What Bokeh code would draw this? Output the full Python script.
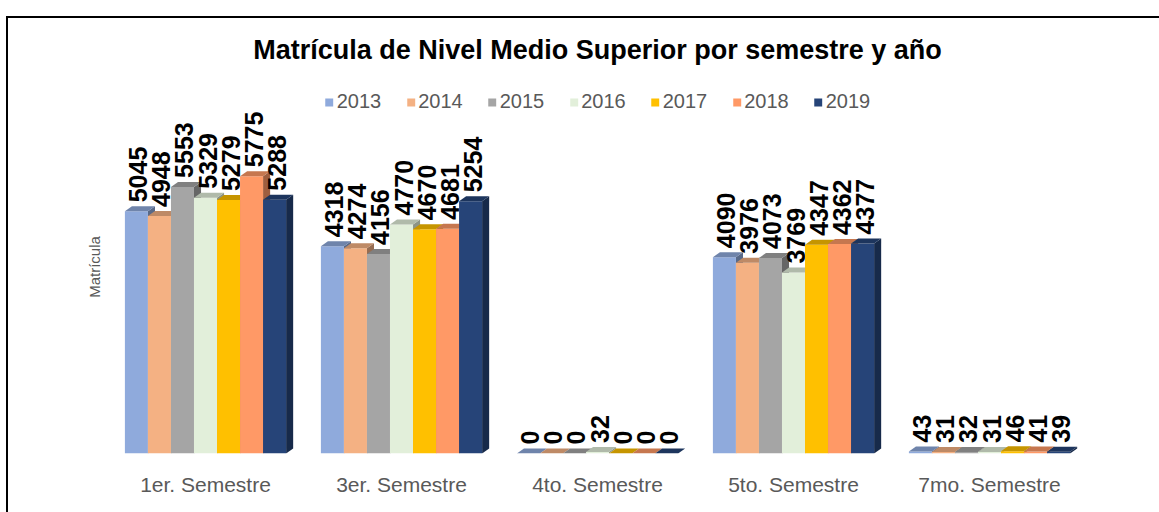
import math
from bokeh.plotting import figure
from bokeh.models import Range1d, FixedTicker, Legend, LegendItem
from bokeh.core.properties import value
from bokeh.embed import file_html
from bokeh.resources import INLINE

# ---------------- data ----------------
categories = ["1er. Semestre", "3er. Semestre", "4to. Semestre", "5to. Semestre", "7mo. Semestre"]
years = ["2013", "2014", "2015", "2016", "2017", "2018", "2019"]
v2013 = [5045, 4318, 0, 4090, 43]
v2014 = [4948, 4274, 0, 3976, 31]
v2015 = [5553, 4156, 0, 4073, 32]
v2016 = [5329, 4770, 32, 3769, 31]
v2017 = [5279, 4670, 0, 4347, 46]
v2018 = [5775, 4681, 0, 4362, 41]
v2019 = [5288, 5254, 0, 4377, 39]
series = [v2013, v2014, v2015, v2016, v2017, v2018, v2019]

colors = ["#8FAADC", "#F4B183", "#A5A5A5", "#E2EFDA", "#FFC000", "#FF9966", "#264478"]

# ---------------- style helpers ----------------
FONT = "Liberation Sans"
W = 0.1175      # bar width (category units)
DX = 0.036      # 3D depth, x
DY = 104        # 3D depth, y


def shade(hex_color, f):
    h = hex_color.lstrip("#")
    r, g, b = (int(h[i:i + 2], 16) for i in (0, 2, 4))
    return "#%02x%02x%02x" % (int(r * f), int(g * f), int(b * f))


p = figure(width=1159, height=512,
           x_range=Range1d(-0.5, 4.5), y_range=Range1d(0, 7770),
           output_backend="svg", toolbar_location=None,
           min_border_left=107, min_border_right=72,
           min_border_top=80, min_border_bottom=59)

p.background_fill_color = "white"
p.border_fill_alpha = 0
p.outline_line_color = None
p.xgrid.grid_line_color = None
p.ygrid.grid_line_color = None

# outer chart border (left and top edge) drawn behind the transparent canvas
p.styles = {
    "background-color": "white",
    "background-image": "linear-gradient(#000000, #000000), linear-gradient(#000000, #000000)",
    "background-size": "2px 100%, 100% 2px",
    "background-position": "6px 16px, 6px 16px",
    "background-repeat": "no-repeat",
}

legend_items = []
for i, (yr, vals, col) in enumerate(zip(years, series, colors)):
    xc = [k + (i - 3) * W for k in range(len(categories))]
    left = [x - W / 2 for x in xc]
    right = [x + W / 2 for x in xc]
    side_xs = [[r, r, r + DX, r + DX] for r in right]
    side_ys = [[0, v, v + DY, DY] for v in vals]
    top_xs = [[l, r, r + DX, l + DX] for l, r in zip(left, right)]
    top_ys = [[v, v, v + DY, v + DY] for v in vals]
    p.patches(xs=side_xs, ys=side_ys, fill_color=shade(col, 0.62), line_color=None)
    front = p.quad(left=left, right=right, bottom=0, top=vals,
                   fill_color=col, line_color=None)
    p.patches(xs=top_xs, ys=top_ys, fill_color=shade(col, 0.78), line_color=None)
    p.text(x=xc, y=vals, text=[str(v) for v in vals], angle=math.pi / 2,
           x_offset=2, y_offset=-9,
           text_align="left", text_baseline="middle",
           text_font=value(FONT), text_font_style="bold",
           text_font_size="25px", text_color="black")
    legend_items.append(LegendItem(label=yr, renderers=[front]))

legend = Legend(items=legend_items, orientation="horizontal", location="top_center",
                glyph_width=10, glyph_height=10, label_standoff=3, spacing=24,
                label_text_font=FONT, label_text_font_size="20px",
                label_text_color="#595959", border_line_color=None,
                background_fill_alpha=0, padding=0, margin=10)
p.add_layout(legend)

# title
p.title.text = "Matrícula de Nivel Medio Superior por semestre y año"
p.title.align = "center"
p.title.text_font = FONT
p.title.text_font_style = "bold"
p.title.text_font_size = "27px"
p.title.text_color = "black"
p.title.standoff = 32

# x axis
p.xaxis.ticker = FixedTicker(ticks=list(range(len(categories))))
p.xaxis.major_label_overrides = {k: c for k, c in enumerate(categories)}
p.xaxis.major_label_text_font = FONT
p.xaxis.major_label_text_font_size = "21px"
p.xaxis.major_label_text_color = "#595959"
p.xaxis.major_label_standoff = 13
p.xaxis.axis_line_color = None
p.xaxis.major_tick_line_color = None
p.xaxis.minor_tick_line_color = None

# y axis
p.yaxis.ticker = FixedTicker(ticks=[])
p.yaxis.axis_label = "Matrícula"
p.yaxis.axis_label_text_font = FONT
p.yaxis.axis_label_text_font_size = "15px"
p.yaxis.axis_label_text_font_style = "normal"
p.yaxis.axis_label_text_color = "#595959"
p.yaxis.axis_label_text_align = "right"
p.yaxis.axis_line_color = None
p.yaxis.major_tick_line_color = None
p.yaxis.minor_tick_line_color = None
p.yaxis.axis_label_standoff = 5

open("out.html", "w").write(file_html(p, INLINE))
